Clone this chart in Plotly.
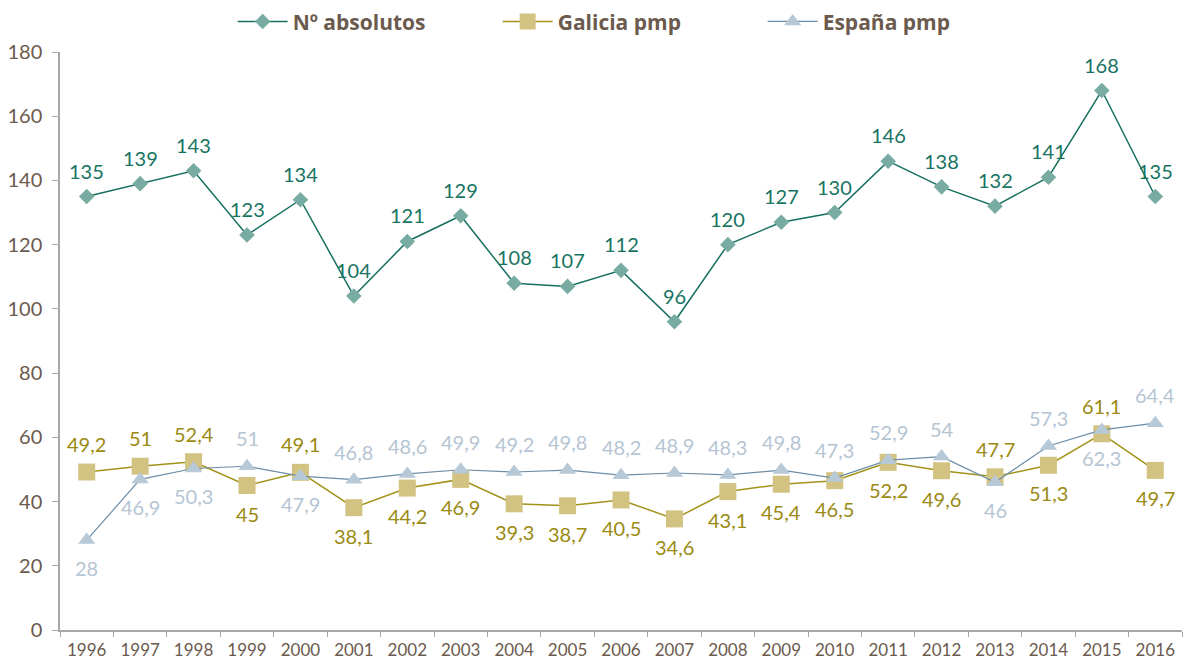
import plotly.graph_objects as go

years = [str(y) for y in range(1996, 2017)]
absolutos = [135, 139, 143, 123, 134, 104, 121, 129, 108, 107, 112, 96, 120, 127, 130, 146, 138, 132, 141, 168, 135]
galicia = [49.2, 51, 52.4, 45, 49.1, 38.1, 44.2, 46.9, 39.3, 38.7, 40.5, 34.6, 43.1, 45.4, 46.5, 52.2, 49.6, 47.7, 51.3, 61.1, 49.7]
espana = [28, 46.9, 50.3, 51, 47.9, 46.8, 48.6, 49.9, 49.2, 49.8, 48.2, 48.9, 48.3, 49.8, 47.3, 52.9, 54, 46, 57.3, 62.3, 64.4]

# +1 = label above the marker, -1 = label below
absolutos_side = [1] * 21
galicia_side = [1, 1, 1, -1, 1, -1, -1, -1, -1, -1, -1, -1, -1, -1, -1, -1, -1, 1, -1, 1, -1]
espana_side = [-1, -1, -1, 1, -1, 1, 1, 1, 1, 1, 1, 1, 1, 1, 1, 1, 1, -1, 1, -1, 1]

LABEL_FONT = "Lato"
BROWN = "#6b5a4e"
AXIS_GREY = "#a8a8a8"


def fmt(v):
    return ("%g" % v).replace(".", ",")


series = [
    dict(name="Nº absolutos", y=absolutos, side=absolutos_side, shift=26,
         line="#17705f", lw=1.5, symbol="diamond", size=12, marker="#78aba1", text="#177462"),
    dict(name="Galicia pmp", y=galicia, side=galicia_side, shift=28,
         line="#a3921a", lw=1.5, symbol="square", size=17, marker="#d3c383", text="#9a8a12"),
    dict(name="España pmp", y=espana, side=espana_side, shift=28,
         line="#6c8ca6", lw=1.2, symbol="triangle-up", size=15, marker="#b7c8d6", text="#b5c5d3"),
]

fig = go.Figure()
annotations = []
for s in series:
    fig.add_trace(go.Scatter(
        x=years, y=s["y"], name=s["name"], mode="lines+markers",
        line=dict(color=s["line"], width=s["lw"]),
        marker=dict(symbol=s["symbol"], size=s["size"], color=s["marker"]),
    ))
    # value labels, positioned on the category index of each year
    for i, (v, side) in enumerate(zip(s["y"], s["side"])):
        annotations.append(dict(
            x=i, y=v, xref="x", yref="y", text=fmt(v), showarrow=False,
            xanchor="center", yanchor="middle", yshift=side * s["shift"],
            font=dict(family=LABEL_FONT, size=20, color=s["text"]),
        ))

fig.update_layout(
    width=1189, height=661,
    margin=dict(l=60, r=7, t=52, b=31, autoexpand=False),
    paper_bgcolor="white", plot_bgcolor="white",
    font=dict(family=LABEL_FONT, color=BROWN),
    showlegend=True,
    annotations=annotations,
    legend=dict(
        orientation="h", xref="container", x=0.53, xanchor="center",
        yref="container", y=0.998, yanchor="top",
        itemwidth=50, entrywidth=200, entrywidthmode="pixels",
        font=dict(family="Open Sans", size=21, color=BROWN, weight="bold"),
        traceorder="normal",
    ),
    xaxis=dict(
        type="category", range=[-0.5, 20.5],
        showline=True, linecolor=AXIS_GREY, linewidth=1.5,
        ticks="outside", ticklen=5, tickcolor=AXIS_GREY, tickson="boundaries",
        ticklabelstandoff=4,
        tickfont=dict(family=LABEL_FONT, size=17, color=BROWN),
        showgrid=False, zeroline=False,
    ),
    yaxis=dict(
        range=[0, 180], dtick=20,
        showline=True, linecolor=AXIS_GREY, linewidth=1.5,
        ticks="outside", ticklen=6, tickcolor=AXIS_GREY,
        ticklabelstandoff=6,
        tickfont=dict(family=LABEL_FONT, size=20, color=BROWN),
        showgrid=False, zeroline=False,
    ),
)

fig.write_html("out.html")
